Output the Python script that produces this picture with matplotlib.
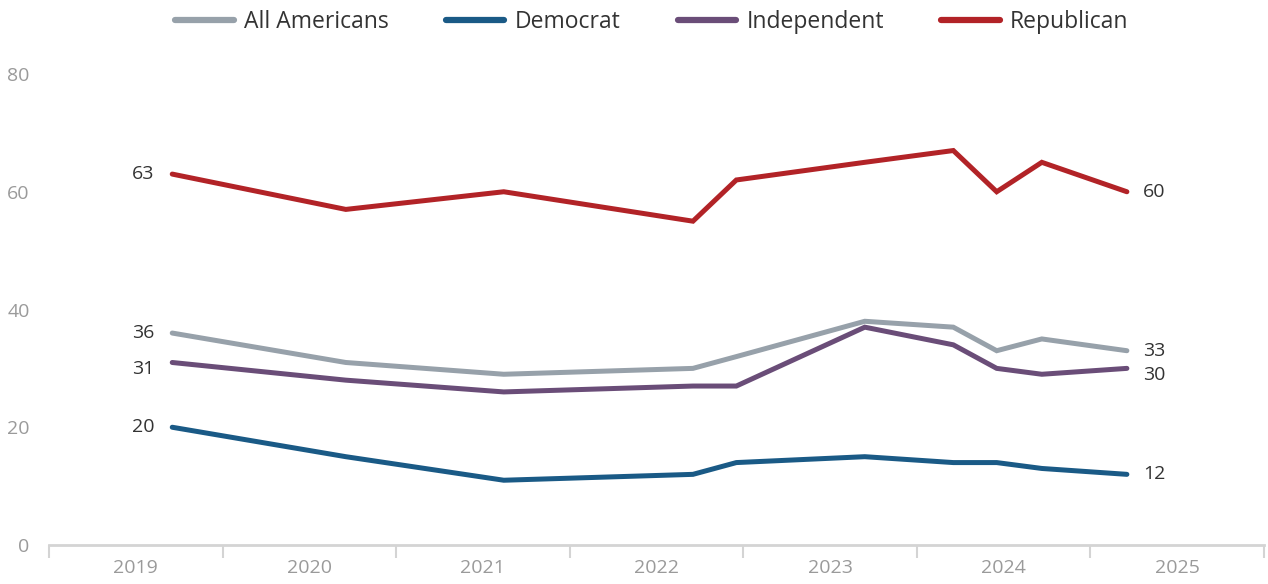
import matplotlib.pyplot as plt
from matplotlib.ticker import FixedLocator, NullFormatter

# Survey dates as decimal years
dates = [2019.71, 2020.71, 2021.62, 2022.71, 2022.96, 2023.70, 2024.21, 2024.46, 2024.72, 2025.21]

all_americans = [36, 31, 29, 30, 32, 38, 37, 33, 35, 33]
democrat = [20, 15, 11, 12, 14, 15, 14, 14, 13, 12]
independent = [31, 28, 26, 27, 27, 37, 34, 30, 29, 30]
republican = [63, 57, 60, 55, 62, 65, 67, 60, 65, 60]

series_names = ["All Americans", "Democrat", "Independent", "Republican"]
series_values = [all_americans, democrat, independent, republican]
series_colors = ["#97a1aa", "#1a5a86", "#6a4d78", "#b22327"]
# nudge labels so the close ones don't collide (pixels)
label_nudge = [0, 0, -7, 0]

years = [2019, 2020, 2021, 2022, 2023, 2024, 2025]

plt.rcParams['font.family'] = ['Open Sans', 'DejaVu Sans']

fig = plt.figure(figsize=(12.68, 5.84), dpi=100)
ax = fig.add_axes([49 / 1268, 1 - 545 / 584, 1215 / 1268, 471 / 584])

for name, vals, col, dy in zip(series_names, series_values, series_colors, label_nudge):
    ax.plot(dates, vals, color=col, lw=3.6, label=name,
            solid_capstyle='round', solid_joinstyle='miter', clip_on=False)
    # start and end labels
    ax.annotate(str(vals[0]), (dates[0], vals[0]), xytext=(-18, dy),
                textcoords='offset pixels', ha='right', va='center',
                fontsize=14, color='#333333')
    ax.annotate(str(vals[-1]), (dates[-1], vals[-1]), xytext=(16, dy),
                textcoords='offset pixels', ha='left', va='center',
                fontsize=14, color='#333333')

ax.set_xlim(2019, 2026)
ax.set_ylim(0, 80)

# year boundaries as ticks, year names centered in between
ax.xaxis.set_major_locator(FixedLocator([y for y in range(2019, 2027)]))
ax.xaxis.set_major_formatter(NullFormatter())
ax.xaxis.set_minor_locator(FixedLocator([y + 0.5 for y in years]))
ax.set_xticklabels([str(y) for y in years], minor=True)
ax.tick_params(axis='x', which='major', length=9, width=1.5, color='#d4d4d4')
ax.tick_params(axis='x', which='minor', length=0, pad=10, labelsize=14, labelcolor='#9a9a9a')

ax.set_yticks([0, 20, 40, 60, 80])
ax.tick_params(axis='y', length=0, pad=14, labelsize=14, labelcolor='#9a9a9a')

for side in ['top', 'right', 'left']:
    ax.spines[side].set_visible(False)
ax.spines['bottom'].set_color('#d4d4d4')
ax.spines['bottom'].set_linewidth(2)

leg = fig.legend(loc='center', bbox_to_anchor=(0.514, 1 - 22 / 584), ncol=4,
                 frameon=False, fontsize=16.5, handlelength=2.55, handletextpad=0.45,
                 columnspacing=2.5)
for t in leg.get_texts():
    t.set_color('#333333')
for h in leg.get_lines():
    h.set_linewidth(4.5)

fig.savefig('out.png', dpi=100)
